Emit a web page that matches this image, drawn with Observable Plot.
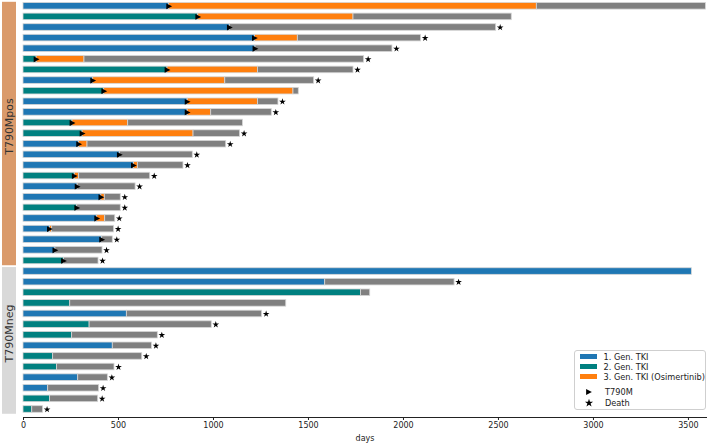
<!DOCTYPE html>
<html><head><meta charset="utf-8">
<script src="https://cdn.jsdelivr.net/npm/d3@7"></script>
<script src="https://cdn.jsdelivr.net/npm/@observablehq/plot@0.6"></script>
<style>
body{margin:0;background:#fff;}
#wrap{position:relative;width:709px;height:444px;font-family:"DejaVu Sans",sans-serif;}
.legend{position:absolute;left:574px;top:350px;width:132px;height:60px;border:1px solid #cfcfcf;border-radius:3px;background:rgba(255,255,255,0.85);box-sizing:border-box;font-size:8.2px;color:#222;}
.legend .item{position:absolute;left:0;height:10px;line-height:10px;white-space:nowrap;}
.legend .sw{position:absolute;left:5px;top:2.3px;width:17px;height:5.5px;}
.legend .lab{position:absolute;left:28.5px;top:0;}
.legend svg{position:absolute;left:9px;top:-1px;overflow:visible;}
</style></head>
<body><div id="wrap"></div>
<script>
// ---- data ----
const groups = [
  "T790Mpos","T790Mpos","T790Mpos","T790Mpos","T790Mpos","T790Mpos","T790Mpos","T790Mpos","T790Mpos","T790Mpos",
  "T790Mpos","T790Mpos","T790Mpos","T790Mpos","T790Mpos","T790Mpos","T790Mpos","T790Mpos","T790Mpos","T790Mpos",
  "T790Mpos","T790Mpos","T790Mpos","T790Mpos","T790Mpos",
  "T790Mneg","T790Mneg","T790Mneg","T790Mneg","T790Mneg","T790Mneg","T790Mneg","T790Mneg","T790Mneg","T790Mneg",
  "T790Mneg","T790Mneg","T790Mneg","T790Mneg"];
const firstGen = [1,2,1,1,1,2,2,1,2,1,1,2,2,1,1,1,2,1,1,2,1,1,1,1,2,
                  1,1,2,2,1,2,2,1,2,2,1,1,2,2];
const tkiEnd = [767,920,1086,1218,1221,69,758,367,425,864,864,258,311,293,507,581,270,285,410,283,388,139,414,168,213,
                3518,1588,1777,246,544,348,256,470,156,177,288,130,140,46];
const osiEnd = [2702,1737,1086,1444,1221,321,1234,1062,1421,1234,988,551,895,337,507,602,293,285,428,283,430,151,414,168,213,
                3518,1588,1777,246,544,348,256,470,156,177,288,130,140,46];
const lastEnd = [3592,2570,2488,2093,1942,1793,1737,1530,1449,1342,1307,1155,1140,1067,891,842,667,590,512,512,483,477,470,416,395,
                 3518,2269,1825,1383,1256,991,707,676,625,479,444,398,393,103];
const death = [0,0,1,1,1,1,1,1,0,1,1,0,1,1,1,1,1,1,1,1,1,1,1,1,1,
               0,1,0,0,1,1,1,1,1,1,1,1,1,1];
const groupNames = ["T790Mpos","T790Mneg"];
const groupColors = ["#da9a6b","#d9d9d9"];
const kinds = ["1. Gen. TKI","2. Gen. TKI","3. Gen. TKI (Osimertinib)","after"];
const kindColors = ["#1f77b4","#008080","#ff7f0e","#808080"];
const markerLabels = ["T790M","Death"];
const xTicks = [0,500,1000,1500,2000,2500,3000,3500];

// ---- build tables ----
const ids = d3.range(groups.length);
const segments = [];
ids.forEach(i => {
  const a = tkiEnd[i], b = osiEnd[i], c = lastEnd[i];
  segments.push({row: i, x1: 0, x2: a, kind: kinds[firstGen[i] - 1]});
  if (b > a) segments.push({row: i, x1: a, x2: b, kind: kinds[2]});
  if (c > b) segments.push({row: i, x1: b, x2: c, kind: kinds[3]});
});
const t790 = ids.filter(i => groups[i] === "T790Mpos").map(i => ({row: i, x: tkiEnd[i]}));
const deaths = ids.filter(i => death[i]).map(i => ({row: i, x: lastEnd[i]}));

const triRight = {draw(ctx, size) {
  const r = Math.sqrt(size / Math.PI);
  ctx.moveTo(r, 0); ctx.lineTo(-r, -r); ctx.lineTo(-r, r); ctx.closePath();
}};

const chart = Plot.plot({
  width: 709, height: 444,
  marginLeft: 23, marginRight: 3, marginTop: 0, marginBottom: 27,
  style: {fontFamily: "DejaVu Sans", fontSize: "8px", color: "#222", background: "white"},
  x: {domain: [0, 3595], ticks: xTicks, tickFormat: "d", tickSize: 3, tickPadding: 2, line: true,
      label: "days", labelAnchor: "center", labelOffset: 23, labelArrow: "none"},
  y: {domain: ids, range: [2.5, 412.27], paddingInner: 0.38, paddingOuter: 0, round: false, axis: null},
  color: {domain: kinds, range: kindColors},
  marks: [
    Plot.barX(segments, {y: "row", x1: "x1", x2: "x2", fill: "kind", stroke: "#d6d6d6", strokeWidth: 0.8}),
    Plot.dot(t790, {x: "x", y: "row", symbol: triRight, r: 2.9, fill: "black", stroke: "none"}),
    Plot.dot(deaths, {x: "x", y: "row", dx: 4, symbol: "star", r: 2.1, fill: "black", stroke: "none"})
  ]
});

const wrap = document.getElementById("wrap");
wrap.appendChild(chart);

// group boxes positioned from the y scale
const ys = chart.scale("y");
const svg = d3.select(chart);
const gBox = svg.append("g");
groupNames.forEach((g, k) => {
  const rows = ids.filter(i => groups[i] === g);
  const top = ys.apply(rows[0]) - 0.7;
  const bot = ys.apply(rows[rows.length - 1]) + ys.bandwidth + 1.5;
  gBox.append("rect").attr("x", 2).attr("width", 14).attr("y", top).attr("height", bot - top)
    .attr("fill", groupColors[k]);
  const cy = (top + bot) / 2 - 7;
  gBox.append("text").attr("transform", `translate(9.5,${cy}) rotate(-90)`)
    .attr("text-anchor", "middle").attr("dy", "0.36em")
    .attr("font-family", "DejaVu Sans").attr("font-size", 11).attr("fill", "#333").text(g);
});

// legend
const leg = d3.select(wrap).append("div").attr("class", "legend");
const itemTops = [0.7, 10.7, 20.7, 35.7, 47];
kinds.slice(0, 3).forEach((k, j) => {
  const it = leg.append("div").attr("class", "item").style("top", itemTops[j] + "px");
  it.append("div").attr("class", "sw").style("background", kindColors[j]);
  it.append("div").attr("class", "lab").text(k);
});
const markerSyms = [d3.symbol(triRight, 2.9 * 2.9 * Math.PI)(), d3.symbol(d3.symbolStar, 2.6 * 2.6 * Math.PI)()];
markerLabels.forEach((m, j) => {
  const it = leg.append("div").attr("class", "item").style("top", itemTops[3 + j] + "px");
  const s = it.append("svg").attr("width", 12).attr("height", 12);
  s.append("path").attr("d", markerSyms[j]).attr("transform", "translate(5,6)").attr("fill", "black");
  it.append("div").attr("class", "lab").style("left", "30px").text(m);
});
</script>
</body></html>
